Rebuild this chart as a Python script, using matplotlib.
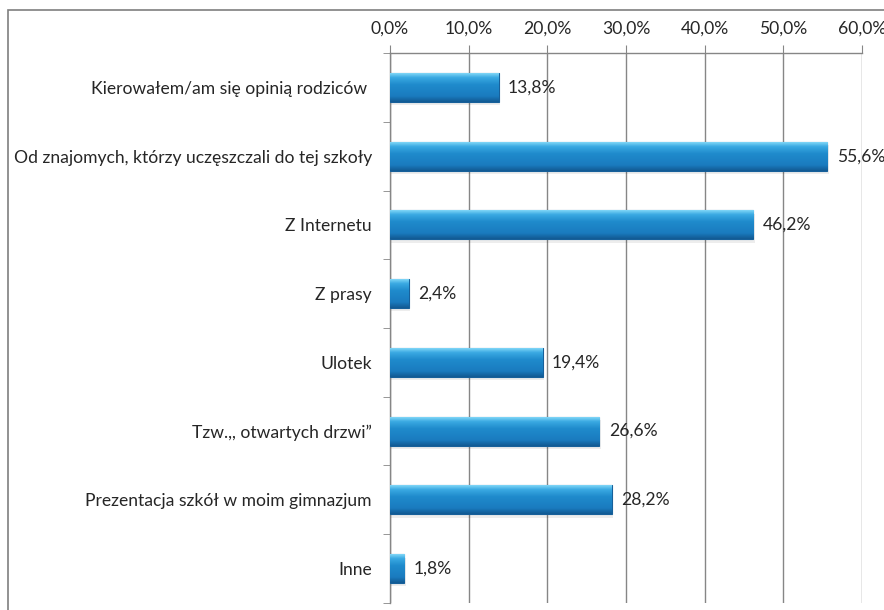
import numpy as np
import matplotlib
matplotlib.use("Agg")
import matplotlib.pyplot as plt
from matplotlib.colors import LinearSegmentedColormap
from matplotlib.patches import Rectangle

plt.rcParams['font.family'] = ['Lato', 'DejaVu Sans']

categories = [
    "Kierowałem/am się opinią rodziców ",
    "Od znajomych, którzy uczęszczali do tej szkoły",
    "Z Internetu",
    "Z prasy",
    "Ulotek",
    "Tzw.,, otwartych drzwi\u201d",
    "Prezentacja szkół w moim gimnazjum",
    "Inne",
]
values = [13.8, 55.6, 46.2, 2.4, 19.4, 26.6, 28.2, 1.8]
xticks = [0, 10, 20, 30, 40, 50, 60]

fig = plt.figure(figsize=(8.84, 6.10), dpi=100)
ax = fig.add_axes([0.4412, 0.0115, 0.5339, 0.9016])

# outer frame (left and top only visible)
fig.patches.append(Rectangle((8 / 884, -0.1), 1.2, 0.1 + 1 - 10 / 610,
                             transform=fig.transFigure, fill=False,
                             edgecolor='#7f7f7f', linewidth=1.2, zorder=0))

grad = LinearSegmentedColormap.from_list(
    'bar', [(0, '#7fd6f7'), (0.15, '#3aa9e2'), (0.4, '#1f8bcc'),
            (0.8, '#1a7bbf'), (1, '#125a93')])
g = np.linspace(0, 1, 64).reshape(-1, 1)

y = np.arange(len(categories))
h = 0.42
bars = ax.barh(y, values, height=h, color='#1b82c4', edgecolor='#17609a',
               linewidth=0.8, zorder=3)
for b in bars:
    x0, y0 = b.get_x(), b.get_y()
    w, hh = b.get_width(), b.get_height()
    # soft shadow
    ax.add_patch(Rectangle((x0, y0 + 0.05), w + 0.2, hh, color='#000000',
                           alpha=0.07, zorder=2, linewidth=0))
    im = ax.imshow(g, cmap=grad, aspect='auto', extent=(x0, x0 + w, y0 + hh, y0),
                   zorder=3.5)
    im.set_clip_path(b)

for yi, v in zip(y, values):
    ax.text(v + 1.2, yi, f"{v:.1f}%".replace('.', ','), va='center', ha='left',
            fontsize=12.6, color='#262626', zorder=5)

ax.set_xlim(0, 60)
ax.set_ylim(len(categories) - 0.5, -0.5)
ax.set_xticks(xticks)
ax.set_xticklabels([f"{t:.1f}%".replace('.', ',') for t in xticks])
ax.xaxis.tick_top()
ax.tick_params(axis='x', length=6, color='#868686', labelsize=12.6,
               labelcolor='#262626', pad=6)
ax.grid(axis='x', color='#868686', linewidth=1, zorder=1)
ax.set_axisbelow(True)

ax.set_yticks(y)
ax.set_yticklabels(categories)
ax.tick_params(axis='y', which='major', length=0, labelsize=12.6,
               labelcolor='#262626', pad=13)
ax.set_yticks(np.arange(-0.5, len(categories)), minor=True)
ax.tick_params(axis='y', which='minor', length=5, color='#868686')

for s in ['right', 'bottom']:
    ax.spines[s].set_visible(False)
for s in ['left', 'top']:
    ax.spines[s].set_color('#868686')
    ax.spines[s].set_linewidth(1)

fig.savefig('out.png', dpi=100)
